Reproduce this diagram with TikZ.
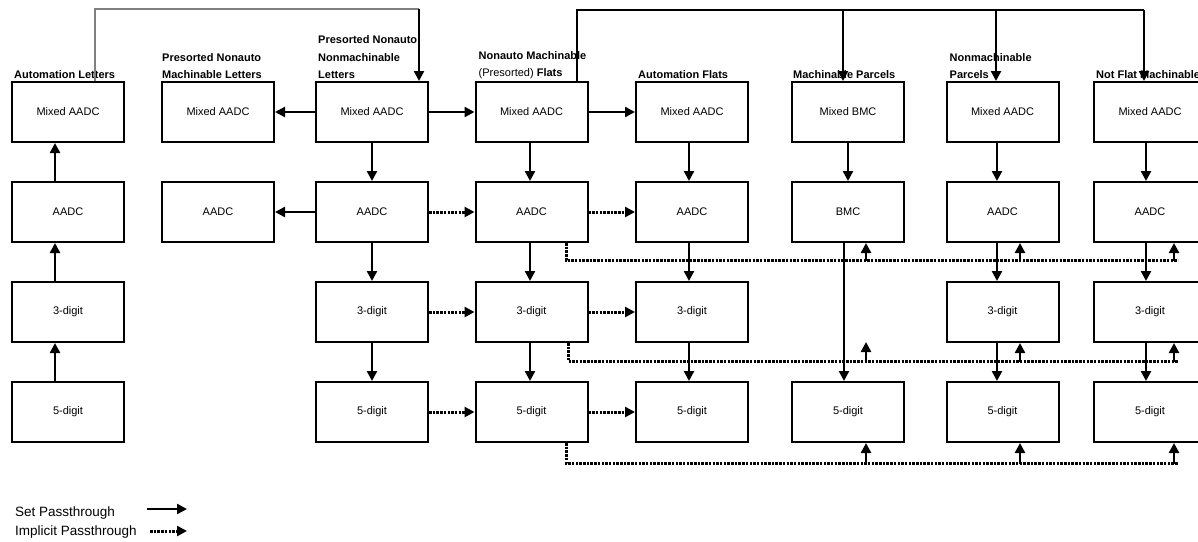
\documentclass[tikz,border=0pt]{standalone}
\usepackage{fontspec}
\setmainfont{Liberation Sans}
\usetikzlibrary{arrows.meta,calc}
\tikzstyle{bx}=[shape=rectangle, draw, line width=2pt, minimum width=112pt, minimum height=60pt, inner sep=0, font=\fontsize{11}{13}\selectfont]
\tikzstyle{hd}=[anchor=south west, align=left, inner sep=0, font=\fontsize{11}{17.5}\selectfont\bfseries]
\tikzstyle{lg}=[anchor=west, inner sep=0, font=\fontsize{13.5}{15}\selectfont]
\tikzstyle{sp}=[line width=2.4pt, -{Triangle[length=10pt,width=10pt]}]
\tikzstyle{ip}=[line width=3pt, dash pattern=on 2.5pt off 1.2pt]
\tikzstyle{ipa}=[ip, -{Triangle[length=10pt,width=10pt]}]

\begin{document}
\begin{tikzpicture}[x=1pt,y=-1pt]
\useasboundingbox (0,0) rectangle (1198,541);
\foreach \x/\c/\l in {1/68/AADC,2/218/AADC,3/372/AADC,4/531.5/AADC,5/692/AADC,6/848/BMC,7/1002.5/AADC,8/1150/AADC}
{
\node[bx] (m\x) at (\c,112) {Mixed \l};
\node[bx] (a\x) at (\c,212) {\l};
}
\foreach \x/\c in {1/68,3/372,4/531.5,5/692,7/1002.5,8/1150}
{
\node[bx] (t\x) at (\c,312) {3-digit};
}
\foreach \x/\c in {1/68,3/372,4/531.5,5/692,6/848,7/1002.5,8/1150}
{
\node[bx] (f\x) at (\c,412) {5-digit};
}
\coordinate (t6) at (848,342);

\node[hd] (h1) at ([xshift=3pt,yshift=2pt]m1.north west) {Automation Letters};
\node[hd] (h2) at ([xshift=1pt,yshift=2pt]m2.north west) {Presorted Nonauto\\Machinable Letters};
\node[hd] (h3) at ([xshift=3pt,yshift=2pt]m3.north west) {Presorted Nonauto\\Nonmachinable\\Letters};
\node[hd] (h4) at ([xshift=4pt,yshift=2pt]m4.north west) {Nonauto Machinable\\\textmd{(Presorted)} Flats};
\node[hd] (h5) at ([xshift=3pt,yshift=2pt]m5.north west) {Automation Flats};
\node[hd] (h6) at ([xshift=2pt,yshift=2pt]m6.north west) {Machinable Parcels};
\node[hd] (h7) at ([xshift=4pt,yshift=2pt]m7.north west) {Nonmachinable\\Parcels};
\node[hd] (h8) at ([xshift=3pt,yshift=2pt]m8.north west) {Not Flat Machinable};

\coordinate (g) at (419,9);
\draw[gray, line width=1.2pt] ([xshift=27pt]m1.north) |- (g);
\draw[sp] (g) -- (g |- m3.north);
\coordinate (r) at (1144,10);
\draw[line width=1.2pt] ([xshift=45.5pt]m4.north) |- (r);
\foreach \x/\s in {6/-5,7/-6.5,8/-6}
{
\draw[sp] ($(m\x.north |- r)+(\s,0)$) -- ($(m\x.north)+(\s,0)$);
}

\draw[sp] (m3) -- (m2);
\draw[sp] (m3) -- (m4);
\draw[sp] (m4) -- (m5);
\draw[sp] (a3) -- (a2);
\foreach \p/\q in {a3/a4,a4/a5,t3/t4,t4/t5,f3/f4,f4/f5}
{
\draw[ipa] (\p) -- (\q);
}
\foreach \p/\q in {f1/t1,t1/a1,a1/m1}
{
\draw[sp] ($(\p.north)+(-13,0)$) -- ($(\q.south)+(-13,0)$);
}
\foreach \x/\s in {3/0,4/-1.5,5/-3,7/-5.5,8/-4}
{
\draw[sp] ($(m\x.south)+(\s,0)$) -- ($(a\x.north)+(\s,0)$);
\draw[sp] ($(a\x.south)+(\s,0)$) -- ($(t\x.north)+(\s,0)$);
\draw[sp] ($(t\x.south)+(\s,0)$) -- ($(f\x.north)+(\s,0)$);
}
\draw[sp] (m6) -- (a6);
\draw[sp] ($(a6.south)+(-4,0)$) -- ($(f6.north)+(-4,0)$);

\coordinate (e1) at (1178,260);
\coordinate (e2) at (1178,361);
\coordinate (e3) at (1178,463);
\draw[ip] ($(a4.south)+(34.5,0)$) |- (e1);
\draw[ip] ($(t4.south)+(36.5,0)$) |- (e2);
\draw[ip] ($(f4.south)+(34.5,0)$) |- (e3);
\foreach \x/\s in {6/18,7/17.5,8/24}
{
\draw[sp] ($(a\x.south)+(\s,18)$) -- ($(a\x.south)+(\s,0)$);
\draw[sp] ($(t\x.south)+(\s,19)$) -- ($(t\x.south)+(\s,0)$);
\draw[sp] ($(f\x.south)+(\s,21)$) -- ($(f\x.south)+(\s,0)$);
}

\node[lg] (l1) at (15,513) {Set Passthrough};
\node[lg] (l2) at (15,532) {Implicit Passthrough};
\coordinate (s1) at (147,509);
\coordinate (s2) at (187,509);
\coordinate (s3) at (150,531);
\coordinate (s4) at (187,531);
\draw[sp] (s1) -- (s2);
\draw[ipa] (s3) -- (s4);
\end{tikzpicture}
\end{document}
